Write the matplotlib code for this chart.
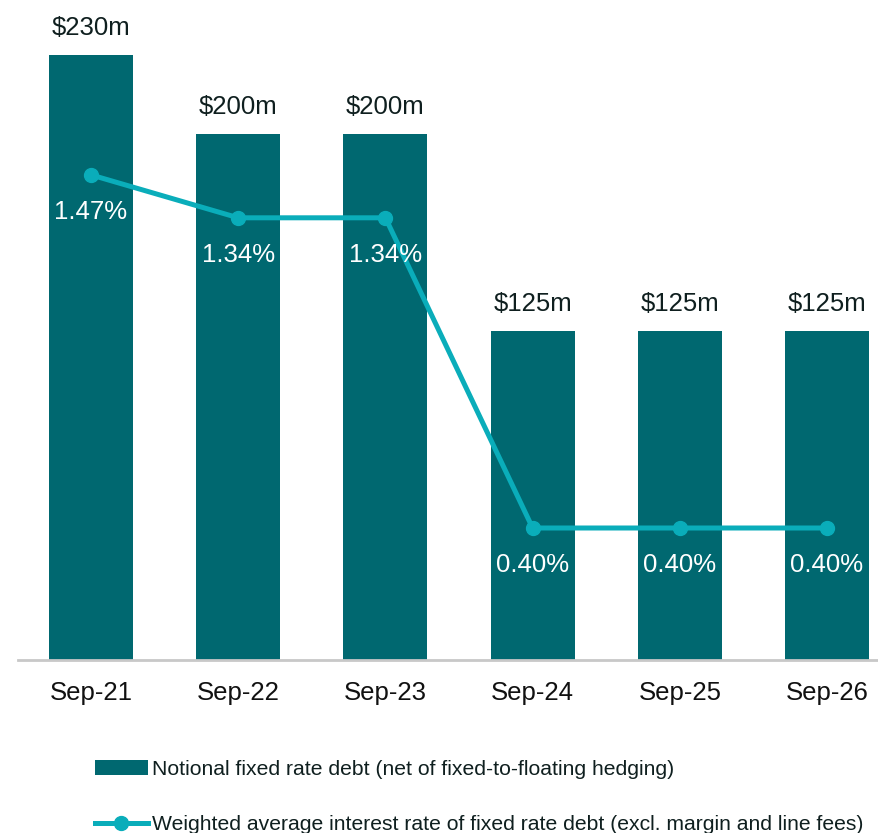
import matplotlib
matplotlib.use("Agg")
import matplotlib.pyplot as plt
from matplotlib.patches import Patch
from matplotlib.lines import Line2D

categories = ["Sep-21", "Sep-22", "Sep-23", "Sep-24", "Sep-25", "Sep-26"]
notional_debt = [230, 200, 200, 125, 125, 125]
avg_rate = [1.47, 1.34, 1.34, 0.40, 0.40, 0.40]
bar_labels = ["$230m", "$200m", "$200m", "$125m", "$125m", "$125m"]
rate_labels = ["1.47%", "1.34%", "1.34%", "0.40%", "0.40%", "0.40%"]
legend_labels = ["Notional fixed rate debt (net of fixed-to-floating hedging)",
                 "Weighted average interest rate of fixed rate debt (excl. margin and line fees)"]

BAR_C = "#006870"
LINE_C = "#0AADBA"
TXT_C = "#0f1f1f"

plt.rcParams['font.family'] = ['Liberation Sans', 'DejaVu Sans']

W, H = 879, 833
fig = plt.figure(figsize=(W / 100, H / 100), dpi=100)
left, right = 18, 879
bottom, top = 660, 2
ax = fig.add_axes([left / W, (H - bottom) / H, (right - left) / W, (bottom - top) / H])
x = list(range(len(categories)))
ax.bar(x, notional_debt, width=0.57, color=BAR_C, zorder=2)
ax.set_xlim(-0.496, 5.353)
ax.set_ylim(0, 250)
for s in ["top", "right", "left"]:
    ax.spines[s].set_visible(False)
ax.spines["bottom"].set_color("#c8c8c8")
ax.spines["bottom"].set_linewidth(2)
ax.set_yticks([])
ax.set_xticks(x)
ax.set_xticklabels(categories, fontsize=18.5, color="#111111")
ax.tick_params(axis="x", length=0, pad=15)
for xi, v, lab in zip(x, notional_debt, bar_labels):
    ax.annotate(lab, (xi, v), xytext=(0, 27), textcoords="offset pixels",
                ha="center", va="center", fontsize=18.5, color=TXT_C)

ax2 = ax.twinx()
ax2.set_ylim(0, (bottom - top) / 330)
ax2.axis("off")
ax2.plot(x, avg_rate, color=LINE_C, lw=3.6, marker="o", ms=10, zorder=3)
for xi, v, lab in zip(x, avg_rate, rate_labels):
    ax2.annotate(lab, (xi, v), xytext=(0, -37), textcoords="offset pixels",
                 ha="center", va="center", fontsize=18.5, color="white")

handles = [Patch(facecolor=BAR_C, edgecolor="none"),
           Line2D([0], [0], color=LINE_C, lw=3.6, marker="o", ms=10)]
fig.legend(handles, legend_labels, loc="upper left",
           bbox_to_anchor=(95 / W, 1 - 760 / H), frameon=False, fontsize=15.2,
           labelcolor=TXT_C, handlelength=2.5, handletextpad=0.2,
           labelspacing=1.7, borderaxespad=0, borderpad=0)

fig.savefig("out.png", dpi=100)
